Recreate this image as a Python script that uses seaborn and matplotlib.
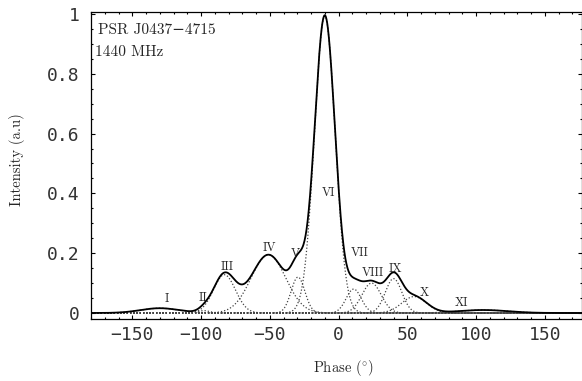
import numpy as np
import pandas as pd
import matplotlib
matplotlib.use('Agg')
import matplotlib.pyplot as plt
from matplotlib.ticker import FixedLocator, MultipleLocator
import seaborn as sns

# gaussian components (centre deg, peak, width deg)
comp_names = ['I', 'II', 'III', 'IV', 'V', 'VI', 'VII', 'VIII', 'IX', 'X', 'XI']
comp_centres = [-130, -98, -83, -51, -29.5, -10, 11, 24, 40, 55, 105]
comp_heights = [0.016, 0.008, 0.128, 0.195, 0.12, 0.995, 0.08, 0.1, 0.115, 0.055, 0.01]
comp_widths = [14, 4, 8, 12.5, 5, 7.5, 5.5, 7, 6, 9, 18]

# where each roman numeral sits
label_x = [-125, -98.5, -81, -50, -31.5, -7.4, 15.6, 25, 41, 62, 89.7]
label_y = [0.046, 0.049, 0.153, 0.216, 0.197, 0.40, 0.20, 0.133, 0.147, 0.066, 0.034]

x_ticks = [-150, -100, -50, 0, 50, 100, 150]
x_tick_labels = ['\u2212150', '\u2212100', '\u221250', '0', '50', '100', '150']
y_ticks = [0, 0.2, 0.4, 0.6, 0.8, 1.0]
y_tick_labels = ['0', '0.2', '0.4', '0.6', '0.8', '1']

phase = np.linspace(-180, 180, 1441)
rows = []
for name, c, h, w in zip(comp_names, comp_centres, comp_heights, comp_widths):
    rows.append(pd.DataFrame({'phase': phase, 'component': name,
                              'intensity': h * np.exp(-0.5 * ((phase - c) / w) ** 2)}))
comps = pd.concat(rows, ignore_index=True)
total = comps.groupby('phase', as_index=False)['intensity'].sum()

sns.set_style('ticks')
plt.rcParams['mathtext.fontset'] = 'cm'
serif = ['cmr10', 'DejaVu Serif']
mono = 'DejaVu Sans Mono'

fig = plt.figure(figsize=(5.82, 3.81), dpi=100)
ax = fig.add_axes([91 / 582, 62 / 381, 491 / 582, 307 / 381])

for name in comp_names:
    sns.lineplot(data=comps[comps['component'] == name], x='phase', y='intensity', ax=ax,
                 color='#444444', lw=0.9, linestyle=(0, (1, 1.6)), estimator=None)
sns.lineplot(data=total, x='phase', y='intensity', ax=ax, color='black', lw=1.3, estimator=None)

for name, lx, ly in zip(comp_names, label_x, label_y):
    ax.text(lx, ly, name, ha='center', va='center', fontsize=8.8, family=serif)

ax.text(-175, 0.945, 'PSR J0437\u22124715', ha='left', va='center', fontsize=11, family=serif)
ax.text(-177, 0.872, '1440 MHz', ha='left', va='center', fontsize=11, family=serif)

#axis formatting
ax.set_xlim(-180, 177)
ax.set_ylim(-0.0201, 1.0067)
ax.xaxis.set_major_locator(FixedLocator(x_ticks))
ax.set_xticklabels(x_tick_labels)
ax.xaxis.set_minor_locator(MultipleLocator(10))
ax.yaxis.set_major_locator(FixedLocator(y_ticks))
ax.set_yticklabels(y_tick_labels)
ax.yaxis.set_minor_locator(MultipleLocator(0.05))
ax.tick_params(which='both', direction='in', top=True, right=True, width=0.8, color='black')
ax.tick_params(which='major', length=3.2)
ax.tick_params(which='minor', length=1.6)
ax.tick_params(axis='x', which='major', pad=5)
ax.tick_params(axis='y', which='major', pad=8)
for lab in ax.get_xticklabels() + ax.get_yticklabels():
    lab.set_fontfamily(mono)
    lab.set_fontsize(13)
    lab.set_color('#333333')
for sp in ax.spines.values():
    sp.set_linewidth(0.9)
    sp.set_color('black')

ax.set_xlabel('')
ax.set_ylabel('')
fig.text(343.8 / 582, 1 - 368.3 / 381, 'Phase ($^{\\circ}$)', ha='center', va='center', fontsize=10.5, family=serif)
fig.text(17 / 582, 1 - 160 / 381, 'Intensity (a.u)', ha='center', va='center', rotation=90,
         fontsize=10.5, family=serif)

fig.savefig('out.png', dpi=100)
